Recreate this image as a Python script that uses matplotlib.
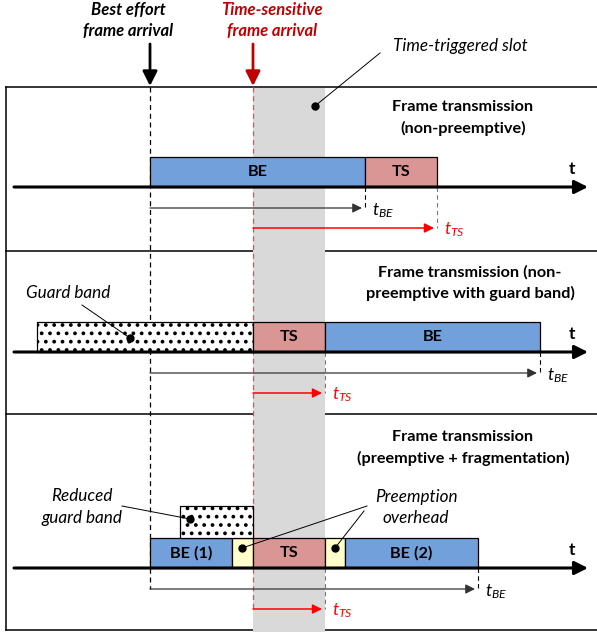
import numpy as np
import matplotlib.pyplot as plt
from matplotlib.patches import Rectangle

plt.rcParams['font.family'] = ['Lato', 'DejaVu Sans']
plt.rcParams['mathtext.fontset'] = 'custom'
plt.rcParams['mathtext.it'] = 'Lato:italic'
plt.rcParams['mathtext.rm'] = 'Lato'
plt.rcParams['hatch.linewidth'] = 1.5

# time instants (diagram units)
be_arrival = 150
ts_arrival = 253
slot_end = 325

# panel 1: non-preemptive
p1_start = [150, 365]
p1_end = [365, 437]
p1_kind = ['BE', 'TS']
p1_label = ['BE', 'TS']

# panel 2: non-preemptive with guard band
p2_start = [37, 253, 325]
p2_end = [253, 325, 540]
p2_kind = ['GB', 'TS', 'BE']
p2_label = ['', 'TS', 'BE']

# panel 3: preemptive + fragmentation
p3_start = [150, 232, 253, 325, 345]
p3_end = [232, 253, 325, 345, 478]
p3_kind = ['BE', 'OH', 'TS', 'OH', 'BE']
p3_label = ['BE (1)', '', 'TS', '', 'BE (2)']
reduced_guard = [180, 253]

# completion times per panel
t_be = [365, 540, 478]
t_ts = [437, 325, 325]

titles = [['Frame transmission', '(non-preemptive)'],
          ['Frame transmission (non-', 'preemptive with guard band)'],
          ['Frame transmission', '(preemptive + fragmentation)']]

colors = {'BE': '#72a0db', 'TS': '#d99694', 'OH': '#ffffcc', 'GB': 'white'}
RED = '#ff4040'
DARKRED = '#c00000'

W, H = 597, 632
fig = plt.figure(figsize=(5.97, 6.32), dpi=100)
ax = fig.add_axes([0, 0, 1, 1])
ax.set_xlim(0, W)
ax.set_ylim(H, 0)
ax.axis('off')

panel_top = [87, 251, 414]
panel_bot = 630
axis_y = [187, 352, 568]
box_h = 30
title_xy = [(463, 107), (470, 272), (463, 437)]
FS_T = 11.7   # titles
FS_I = 12.3   # italic callouts

# panel frames
ax.plot([6, W], [panel_top[0]] * 2, color='black', lw=1.1, zorder=1)
ax.plot([6, 6], [panel_top[0], panel_bot], color='black', lw=1.1, zorder=1)
for y in panel_top[1:] + [panel_bot]:
    ax.plot([6, W], [y, y], color='black', lw=1.1, zorder=1)

# time-triggered slot
ax.add_patch(Rectangle((ts_arrival, panel_top[0] + 1), slot_end - ts_arrival, H - panel_top[0],
                       facecolor='#d9d9d9', edgecolor='none', zorder=2))

# arrival dashed lines
ax.plot([be_arrival, be_arrival], [panel_top[0], axis_y[2] + 21], color='black', lw=0.9,
        ls=(0, (4, 3)), zorder=3)
ax.plot([ts_arrival, ts_arrival], [panel_top[0], axis_y[2] + 41], color=RED, lw=0.9,
        ls=(0, (4, 3)), zorder=3)

# arrival arrows on top
ax.annotate('', xy=(be_arrival, panel_top[0] - 1), xytext=(be_arrival, 44),
            arrowprops=dict(arrowstyle='-|>', color='black', lw=2, mutation_scale=22,
                            shrinkA=0, shrinkB=0))
ax.annotate('', xy=(ts_arrival, panel_top[0] - 1), xytext=(ts_arrival, 44),
            arrowprops=dict(arrowstyle='-|>', color=DARKRED, lw=2, mutation_scale=22,
                            shrinkA=0, shrinkB=0))
ax.text(128, 10, 'Best effort', ha='center', va='center', fontsize=12, weight='bold', style='italic')
ax.text(128, 31, 'frame arrival', ha='center', va='center', fontsize=12, weight='bold', style='italic')
ax.text(272, 10, 'Time-sensitive', ha='center', va='center', fontsize=12, weight='bold',
        style='italic', color=DARKRED)
ax.text(272, 31, 'frame arrival', ha='center', va='center', fontsize=12, weight='bold',
        style='italic', color=DARKRED)

ax.text(460, 46, 'Time-triggered slot', ha='center', va='center', fontsize=FS_I, style='italic')
ax.plot([380, 315], [53, 106], color='black', lw=0.7, zorder=6)
ax.plot(315, 106, 'o', color='black', ms=5, zorder=6)


def draw_box(x0, x1, ybase, kind, label, h=box_h):
    fc = colors[kind]
    hatch = '..' if kind == 'GB' else None
    ax.add_patch(Rectangle((x0, ybase - h), x1 - x0, h, facecolor=fc, edgecolor='black',
                           lw=0.9, hatch=hatch, zorder=4))
    if label:
        ax.text((x0 + x1) / 2, ybase - h / 2, label, ha='center', va='center', fontsize=11.7,
                weight='bold', zorder=5)


panels = [(p1_start, p1_end, p1_kind, p1_label),
          (p2_start, p2_end, p2_kind, p2_label),
          (p3_start, p3_end, p3_kind, p3_label)]

for i, (st, en, kd, lb) in enumerate(panels):
    ay = axis_y[i]
    # time axis
    ax.annotate('', xy=(588, ay), xytext=(14, ay),
                arrowprops=dict(arrowstyle='-|>', color='black', lw=2.2, mutation_scale=20,
                                shrinkA=0, shrinkB=0), zorder=6)
    ax.text(572, ay - 18, 't', ha='center', va='center', fontsize=12.5, weight='bold')
    for x0, x1, k, l in zip(st, en, kd, lb):
        draw_box(x0, x1, ay, k, l)
    # titles
    tx, ty = title_xy[i]
    ax.text(tx, ty, titles[i][0], ha='center', va='center', fontsize=FS_T, weight='bold')
    ax.text(tx, ty + 21, titles[i][1], ha='center', va='center', fontsize=FS_T, weight='bold')

    # completion markers
    yb = ay + 21
    yt = ay + 41
    ax.plot([t_be[i], t_be[i]], [ay, yb], color='black', lw=0.8, ls=(0, (4, 3)), zorder=3)
    ax.annotate('', xy=(t_be[i] - 3, yb), xytext=(be_arrival, yb),
                arrowprops=dict(arrowstyle='-|>', color='#333333', lw=0.9, mutation_scale=14,
                                shrinkA=0, shrinkB=0), zorder=6)
    ax.text(t_be[i] + 7, yb + 3, r'$t_{BE}$', ha='left', va='center', fontsize=12.5)
    ax.plot([t_ts[i], t_ts[i]], [ay, yt], color=RED, lw=0.8, ls=(0, (4, 3)), zorder=3)
    ax.annotate('', xy=(t_ts[i] - 3, yt), xytext=(ts_arrival, yt),
                arrowprops=dict(arrowstyle='-|>', color='#ff0000', lw=1.1, mutation_scale=14,
                                shrinkA=0, shrinkB=0), zorder=6)
    ax.text(t_ts[i] + 7, yt + 2, r'$t_{TS}$', ha='left', va='center', fontsize=12.5, color='#ff0000')

# reduced guard band on top of BE (1)
draw_box(reduced_guard[0], reduced_guard[1], axis_y[2] - box_h, 'GB', '', h=32)

# guard band callout
ax.text(68, 293, 'Guard band', ha='center', va='center', fontsize=FS_I, style='italic')
ax.plot([82, 130], [305, 338], color='black', lw=0.7, zorder=6)
ax.plot(130, 338, 'o', color='black', ms=5, zorder=6)

# reduced guard band callout
ax.text(82, 496, 'Reduced', ha='center', va='center', fontsize=FS_I, style='italic')
ax.text(82, 518, 'guard band', ha='center', va='center', fontsize=FS_I, style='italic')
ax.plot([122, 190], [506, 519], color='black', lw=0.7, zorder=6)
ax.plot(190, 519, 'o', color='black', ms=5, zorder=6)

# preemption overhead callout
ax.text(416, 497, 'Preemption', ha='center', va='center', fontsize=FS_I, style='italic')
ax.text(416, 518, 'overhead', ha='center', va='center', fontsize=FS_I, style='italic')
ax.plot([367, 242], [506, 548], color='black', lw=0.7, zorder=6)
ax.plot(242, 548, 'o', color='black', ms=5, zorder=6)
ax.plot([364, 335], [511, 548], color='black', lw=0.7, zorder=6)
ax.plot(335, 548, 'o', color='black', ms=5, zorder=6)

fig.savefig('out.png', dpi=100)
